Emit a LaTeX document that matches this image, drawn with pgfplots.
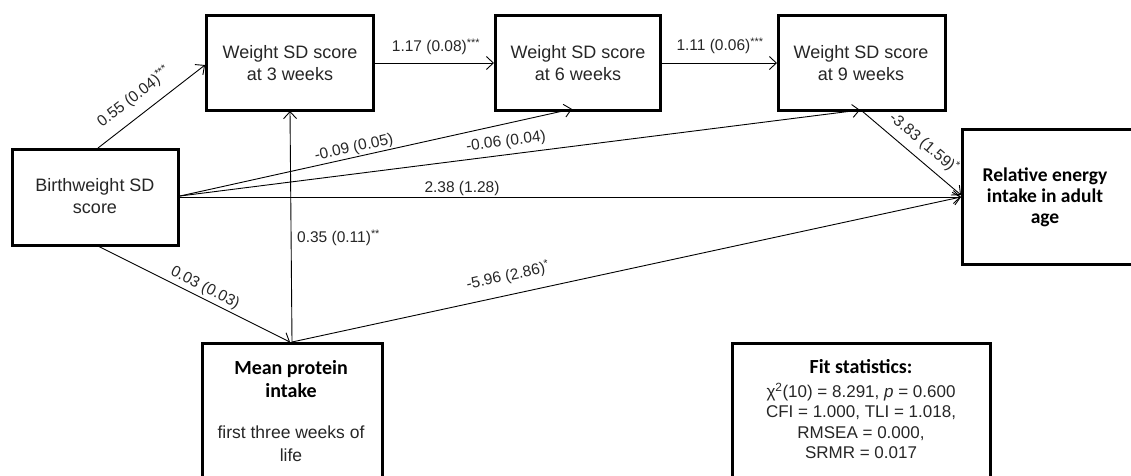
\documentclass[border=0pt]{standalone}
\usepackage{pgfplots}
\pgfplotsset{compat=1.18}
\usepackage{fontspec}
\setmainfont{Liberation Sans}
\newfontfamily\carlito{Carlito}
\usetikzlibrary{arrows.meta}
\tikzset{
  arr/.style={line width=0.9pt, -{Straight Barb[length=7pt,width=13pt,line width=0.9pt]}},
  lab/.style={font=\fontsize{15.5}{18}\selectfont, text=black!85, inner sep=0pt},
}
\begin{document}
\begin{tikzpicture}
\begin{axis}[
  width=1131pt, height=475pt, scale only axis,
  xmin=0, xmax=1131, ymin=0, ymax=475, y dir=reverse,
  hide axis, clip=true,
  every axis plot/.append style={black, line join=miter},
]
% boxes
\addplot[line width=3pt] coordinates {(206,15) (373,15) (373,110) (206,110)} -- cycle;
\addplot[line width=3pt] coordinates {(495,15) (660,15) (660,110) (495,110)} -- cycle;
\addplot[line width=3pt] coordinates {(778,15) (945,15) (945,110) (778,110)} -- cycle;
\addplot[line width=3pt] coordinates {(12,149) (178,149) (178,245) (12,245)} -- cycle;
\addplot[line width=3pt] coordinates {(962,129) (1140,129) (1140,264) (962,264)} -- cycle;
\addplot[line width=3pt] coordinates {(202,343) (382,343) (382,490) (202,490)} -- cycle;
\addplot[line width=3pt] coordinates {(732,343) (990,343) (990,490) (732,490)} -- cycle;
% paths
\addplot[arr] coordinates {(98,148) (205,65)};
\addplot[arr] coordinates {(375,63) (494,63)};
\addplot[arr] coordinates {(662,63) (777,63)};
\addplot[arr] coordinates {(180,196) (572,109)};
\addplot[arr] coordinates {(180,196) (860,110)};
\addplot[arr] coordinates {(180,197) (961,197)};
\addplot[arr] coordinates {(862,111) (961,195)};
\addplot[arr] coordinates {(98,246) (290,342)};
\addplot[arr] coordinates {(292,342) (290,111)};
\addplot[arr] coordinates {(292,342) (961,197)};
% box texts
\node[align=center, font=\fontsize{18}{22}\selectfont, text=black!85] at (axis cs:290,63) {Weight SD score\\at 3 weeks};
\node[align=center, font=\fontsize{18}{22}\selectfont, text=black!85] at (axis cs:578,63) {Weight SD score\\at 6 weeks};
\node[align=center, font=\fontsize{18}{22}\selectfont, text=black!85] at (axis cs:861,63) {Weight SD score\\at 9 weeks};
\node[align=center, font=\fontsize{18}{22}\selectfont, text=black!85] at (axis cs:95,196) {Birthweight SD\\score};
\node[align=center, font=\carlito\bfseries\fontsize{19.5}{21}\selectfont] at (axis cs:1045,197) {Relative energy\\intake in adult\\age};
\node[align=center, font=\carlito\bfseries\fontsize{20}{23}\selectfont] at (axis cs:291,379) {Mean protein\\intake};
\node[align=center, font=\fontsize{17.5}{23}\selectfont, text=black!85] at (axis cs:291,444) {first three weeks of\\life};
\node[align=center, font=\carlito\bfseries\fontsize{20}{21}\selectfont] at (axis cs:861,367) {Fit statistics:};
\node[align=center, font=\fontsize{17}{20.5}\selectfont, text=black!85] at (axis cs:861,421) {χ\textsuperscript{2}(10) = 8.291, \textit{p} = 0.600\\CFI = 1.000, TLI = 1.018,\\RMSEA = 0.000,\\SRMR = 0.017};
% path labels
\node[lab, rotate=38] at (axis cs:134,97) {0.55 (0.04)\textsuperscript{***}};
\node[lab] at (axis cs:436,47) {1.17 (0.08)\textsuperscript{***}};
\node[lab] at (axis cs:720,46) {1.11 (0.06)\textsuperscript{***}};
\node[lab, rotate=12.6] at (axis cs:354,148) {-0.09 (0.05)};
\node[lab, rotate=7.3] at (axis cs:506,142) {-0.06 (0.04)};
\node[lab] at (axis cs:462,188) {2.38 (1.28)};
\node[lab, rotate=-40] at (axis cs:924,143) {-3.83 (1.59)\textsuperscript{*}};
\node[lab, anchor=west] at (axis cs:297,238) {0.35 (0.11)\textsuperscript{**}};
\node[lab, rotate=-27] at (axis cs:205,288) {0.03 (0.03)};
\node[lab, rotate=12.3] at (axis cs:508,276) {-5.96 (2.86)\textsuperscript{*}};
\end{axis}
\path (0,0) rectangle (1131pt,475pt);
\end{tikzpicture}
\end{document}
